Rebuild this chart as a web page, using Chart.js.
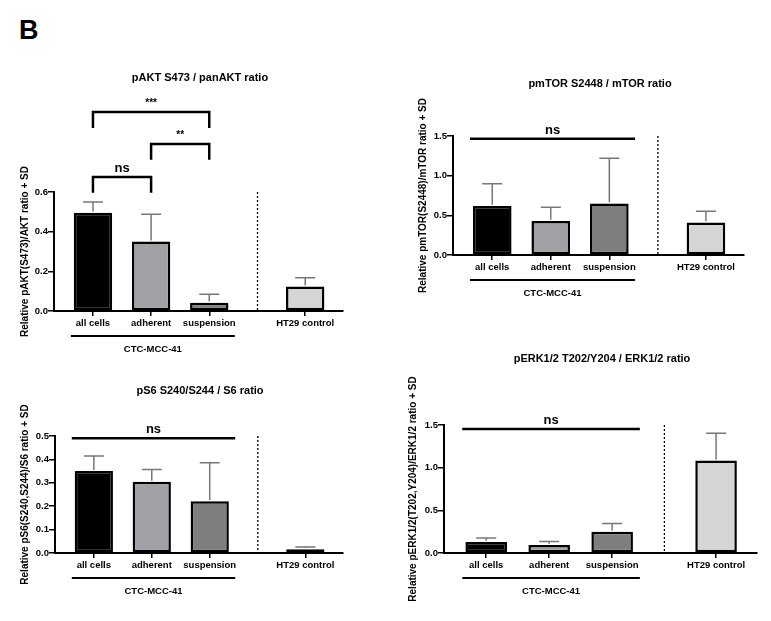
<!DOCTYPE html>
<html>
<head>
<meta charset="utf-8">
<script src="https://cdn.jsdelivr.net/npm/chart.js@4.4.0/dist/chart.umd.min.js"></script>
<style>
    body { margin: 0; background: #fff; width: 771px; height: 621px; position: relative; overflow: hidden;
           font-family: "Liberation Sans", Arial, sans-serif; }
    .panel { position: absolute; }
    #fig-label { position: absolute; left: 19px; top: 17px; font-size: 27px; line-height: 1; font-weight: bold; color: #000; }
</style>
</head>
<body>
<div id="fig-label">B</div>
<div class="panel"><canvas id="c-akt"></canvas></div>
<div class="panel"><canvas id="c-mtor"></canvas></div>
<div class="panel"><canvas id="c-s6"></canvas></div>
<div class="panel"><canvas id="c-erk"></canvas></div>
<script>
/* ---- data ---- */
var GROUPS    = ['all cells', 'adherent', 'suspension', 'HT29 control'];
var CELL_LINE = 'CTC-MCC-41';

var AKT_MEAN  = [0.496, 0.350, 0.042, 0.123];
var AKT_SD    = [0.054, 0.138, 0.042, 0.045];
var AKT_TICKS = [0, 0.2, 0.4, 0.6];
// [from group, to group, bracket height, label]
var AKT_SIG   = [[0, 1, 0.676, 'ns'], [1, 2, 0.842, '**'], [0, 2, 1.003, '***']];

var MTOR_MEAN  = [0.618, 0.430, 0.650, 0.410];
var MTOR_SD    = [0.281, 0.172, 0.570, 0.140];
var MTOR_TICKS = [0, 0.5, 1.0, 1.5];

var S6_MEAN  = [0.350, 0.304, 0.221, 0.016];
var S6_SD    = [0.064, 0.053, 0.165, 0.010];
var S6_TICKS = [0, 0.1, 0.2, 0.3, 0.4, 0.5];

var ERK_MEAN  = [0.129, 0.094, 0.249, 1.083];
var ERK_SD    = [0.046, 0.042, 0.097, 0.320];
var ERK_TICKS = [0, 0.5, 1.0, 1.5];

/* ---- layout (x axis units) ---- */
var SLOT_X     = [1, 2, 3, 4.65];
var DIVIDER_X  = 3.83;
var GROUP_SPAN = [0.62, 3.44];
var X_MIN = 0.33, X_MAX = 5.3;

var BAR_FILL = ['#000000', '#a0a0a5', '#7e7e7e', '#d5d5d5'];
var FONT = '"Liberation Sans", Arial, sans-serif';

var PANELS = {
    'c-akt': {
        title: 'pAKT S473 / panAKT ratio', titlePos: [200, 77],
        yTitle: 'Relative pAKT(S473)/AKT ratio + SD', yTitleX: 25,
        mean: AKT_MEAN, sd: AKT_SD, ticks: AKT_TICKS,
        brackets: AKT_SIG, drop: 0.08,
        box: { left: 0, top: 55, w: 390, h: 315 },
        area: { left: 54, top: 192, right: 343, bottom: 311 }
    },
    'c-mtor': {
        title: 'pmTOR S2448 / mTOR ratio', titlePos: [600, 83],
        yTitle: 'Relative pmTOR(S2448)/mTOR ratio + SD', yTitleX: 423,
        mean: MTOR_MEAN, sd: MTOR_SD, ticks: MTOR_TICKS,
        nsLine: 1.466,
        box: { left: 390, top: 55, w: 381, h: 260 },
        area: { left: 453, top: 136, right: 744, bottom: 255 }
    },
    'c-s6': {
        title: 'pS6 S240/S244 / S6 ratio', titlePos: [200, 390],
        yTitle: 'Relative pS6(S240,S244)/S6 ratio + SD', yTitleX: 25,
        mean: S6_MEAN, sd: S6_SD, ticks: S6_TICKS,
        nsLine: 0.49,
        box: { left: 0, top: 375, w: 390, h: 246 },
        area: { left: 55, top: 436, right: 343, bottom: 553 }
    },
    'c-erk': {
        title: 'pERK1/2 T202/Y204 / ERK1/2 ratio', titlePos: [602, 358],
        yTitle: 'Relative pERK1/2(T202,Y204)/ERK1/2 ratio + SD', yTitleX: 413,
        mean: ERK_MEAN, sd: ERK_SD, ticks: ERK_TICKS,
        nsLine: 1.453,
        box: { left: 390, top: 335, w: 381, h: 286 },
        area: { left: 444, top: 425, right: 757, bottom: 553 }
    }
};

function drawLabel(ctx, text, x, y, size) {
    ctx.font = 'bold ' + size + 'px ' + FONT;
    ctx.textAlign = 'center';
    ctx.textBaseline = 'alphabetic';
    ctx.fillText(text, x, y);
}

var figurePlugin = {
    id: 'figure',
    afterDatasetsDraw: function(chart) {
        var p = PANELS[chart.canvas.id];
        var xs = chart.scales.x, ys = chart.scales.y, ctx = chart.ctx;
        ctx.save();
        ctx.strokeStyle = '#777';
        ctx.lineWidth = 1.5;
        p.mean.forEach(function(m, i) {
            var px = xs.getPixelForValue(SLOT_X[i]);
            var y0 = ys.getPixelForValue(m) - 1.2;
            var y1 = ys.getPixelForValue(m + p.sd[i]);
            ctx.beginPath();
            ctx.moveTo(px, y0); ctx.lineTo(px, y1);
            ctx.moveTo(px - 10, y1); ctx.lineTo(px + 10, y1);
            ctx.stroke();
        });
        ctx.restore();
    },
    afterDraw: function(chart) {
        var p = PANELS[chart.canvas.id];
        var xs = chart.scales.x, ys = chart.scales.y, ctx = chart.ctx;
        var area = chart.chartArea;
        ctx.save();
        ctx.fillStyle = '#000';
        ctx.strokeStyle = '#000';

        // panel title
        drawLabel(ctx, p.title, p.titlePos[0] - p.box.left, p.titlePos[1] - p.box.top + 4, 11);

        // dotted divider before the control
        var dx = xs.getPixelForValue(DIVIDER_X);
        ctx.setLineDash([2, 2]);
        ctx.lineWidth = 1.3;
        ctx.beginPath();
        ctx.moveTo(dx, area.top); ctx.lineTo(dx, area.bottom);
        ctx.stroke();
        ctx.setLineDash([]);

        // significance
        ctx.lineWidth = 2.5;
        if (p.brackets) {
            p.brackets.forEach(function(b) {
                var xa = xs.getPixelForValue(SLOT_X[b[0]]);
                var xb = xs.getPixelForValue(SLOT_X[b[1]]);
                var yl = ys.getPixelForValue(b[2]);
                var yd = ys.getPixelForValue(b[2] - p.drop);
                ctx.beginPath();
                ctx.moveTo(xa, yd); ctx.lineTo(xa, yl); ctx.lineTo(xb, yl); ctx.lineTo(xb, yd);
                ctx.stroke();
                if (b[3] === 'ns') drawLabel(ctx, b[3], (xa + xb) / 2, yl - 5, 13);
                else drawLabel(ctx, b[3], (xa + xb) / 2, yl - 6, 10);
            });
        }
        if (p.nsLine !== undefined) {
            var x0 = xs.getPixelForValue(GROUP_SPAN[0]);
            var x1 = xs.getPixelForValue(GROUP_SPAN[1]);
            var yn = ys.getPixelForValue(p.nsLine);
            ctx.beginPath();
            ctx.moveTo(x0, yn); ctx.lineTo(x1, yn);
            ctx.stroke();
            drawLabel(ctx, 'ns', (x0 + x1) / 2, yn - 5, 13);
        }

        // cell line group bar under the axis
        var g0 = xs.getPixelForValue(GROUP_SPAN[0]);
        var g1 = xs.getPixelForValue(GROUP_SPAN[1]);
        var gy = area.bottom + 25;
        ctx.lineWidth = 2;
        ctx.beginPath();
        ctx.moveTo(g0, gy); ctx.lineTo(g1, gy);
        ctx.stroke();
        drawLabel(ctx, CELL_LINE, (g0 + g1) / 2, gy + 16, 9.5);
        ctx.restore();
    }
};

function makePanel(id) {
    var p = PANELS[id];
    var box = p.box, area = p.area;
    var scaleLeft = p.yTitleX - 6;
    var yWidth = area.left - scaleLeft;
    var xHeight = 40;

    var wrap = document.getElementById(id).parentNode;
    wrap.style.left = box.left + 'px';
    wrap.style.top = box.top + 'px';
    wrap.style.width = box.w + 'px';
    wrap.style.height = box.h + 'px';

    var xGrid = { drawOnChartArea: false, drawTicks: true, tickLength: 5, color: '#000', lineWidth: 1.5, offset: false };
    var yGrid = { drawOnChartArea: false, drawTicks: true, tickLength: 6, color: '#000', lineWidth: 1.5 };
    var axisBorder = { display: true, color: '#000', width: 2 };

    new Chart(document.getElementById(id), {
        type: 'bar',
        data: {
            datasets: [{
                data: p.mean.map(function(v, i) { return { x: SLOT_X[i], y: v }; }),
                backgroundColor: BAR_FILL,
                borderColor: '#000',
                borderWidth: 2.5,
                borderSkipped: false,
                barPercentage: 0.66,
                categoryPercentage: 1
            }]
        },
        options: {
            responsive: true, maintainAspectRatio: false, animation: false,
            layout: {
                padding: {
                    left: scaleLeft - box.left,
                    right: box.left + box.w - area.right,
                    top: area.top - box.top,
                    bottom: box.top + box.h - area.bottom - xHeight
                }
            },
            plugins: { legend: { display: false }, tooltip: { enabled: false } },
            scales: {
                x: {
                    type: 'linear', min: X_MIN, max: X_MAX, offset: false,
                    afterBuildTicks: function(s) { s.ticks = SLOT_X.map(function(v) { return { value: v }; }); },
                    afterFit: function(s) { s.height = xHeight; },
                    grid: xGrid, border: axisBorder,
                    ticks: {
                        color: '#000', font: { family: FONT, size: 9.5, weight: 'bold' },
                        padding: 2, autoSkip: false, maxRotation: 0,
                        callback: function(v, i) { return GROUPS[i]; }
                    }
                },
                y: {
                    min: 0, max: p.ticks[p.ticks.length - 1],
                    afterBuildTicks: function(s) { s.ticks = p.ticks.map(function(v) { return { value: v }; }); },
                    afterFit: function(s) { s.width = yWidth; },
                    grid: yGrid, border: axisBorder,
                    ticks: {
                        color: '#000', font: { family: FONT, size: 9.5, weight: 'bold' }, padding: 0,
                        callback: function(v) { return v.toFixed(1); }
                    },
                    title: {
                        display: true, text: p.yTitle, color: '#000', padding: 0,
                        font: { family: FONT, size: 10, weight: 'bold' }
                    }
                }
            }
        },
        plugins: [figurePlugin]
    });
}

makePanel('c-akt');
makePanel('c-mtor');
makePanel('c-s6');
makePanel('c-erk');
</script>
</body>
</html>
